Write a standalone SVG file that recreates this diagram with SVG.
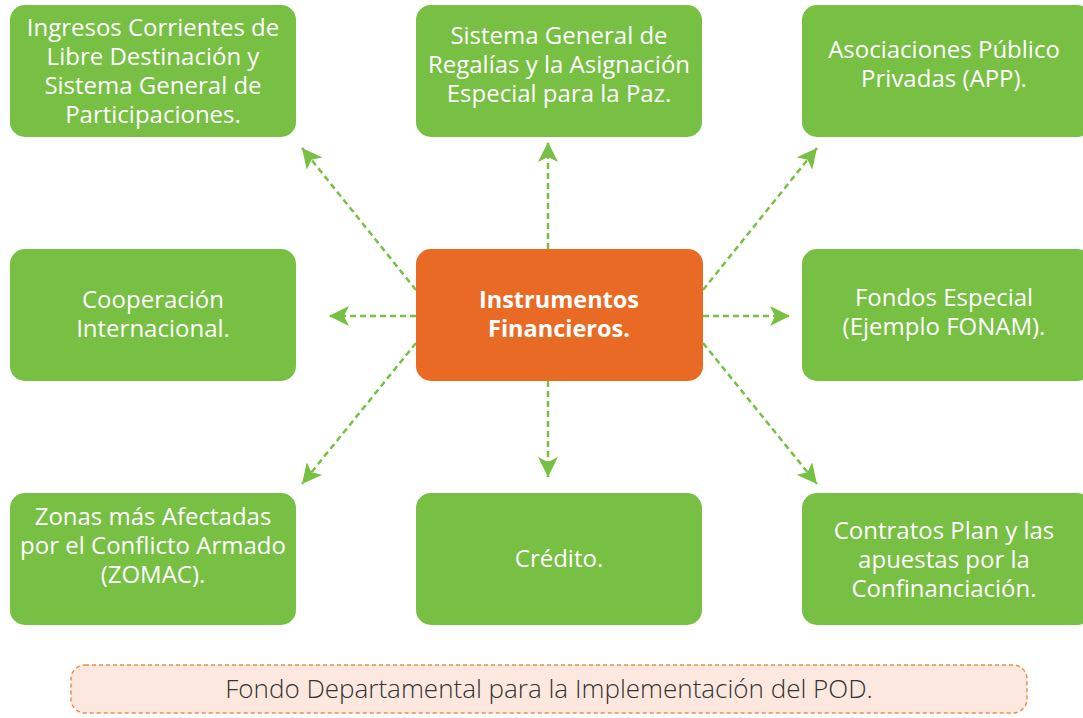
<svg xmlns="http://www.w3.org/2000/svg" width="1083" height="718" viewBox="0 0 1083 718">
<style>
.g rect{fill:#77c043;}
.t{font-family:"Open Sans","Noto Sans","Liberation Sans",sans-serif;font-size:24px;fill:#fff;text-anchor:middle;}
.c{font-weight:bold;font-size:23.5px;}
.ln{stroke:#77c043;stroke-width:2.5;stroke-dasharray:6 4;fill:none;marker-end:url(#ah);}
</style>
<defs>
<marker id="ah" viewBox="0 0 20 20" refX="20" refY="10" markerWidth="20" markerHeight="20" markerUnits="userSpaceOnUse" orient="auto">
<path d="M0,0 L20,10 L0,20 L5,10 z" fill="#77c043"/>
</marker>
</defs>
<rect width="1083" height="718" fill="#fff"/>
<g id="connectors">
<line class="ln" x1="416" y1="290" x2="302" y2="148"/>
<line class="ln" x1="548" y1="249" x2="548" y2="142"/>
<line class="ln" x1="703" y1="290" x2="817" y2="148"/>
<line class="ln" x1="416" y1="316" x2="329" y2="316"/>
<line class="ln" x1="703" y1="316" x2="790" y2="316"/>
<line class="ln" x1="416" y1="343" x2="302" y2="484"/>
<line class="ln" x1="548" y1="381" x2="548" y2="477"/>
<line class="ln" x1="703" y1="343" x2="817" y2="484"/>
</g>
<g id="n1" class="g"><rect x="10" y="5" width="286" height="132" rx="15"/>
<text class="t"><tspan x="153" y="36">Ingresos Corrientes de</tspan><tspan x="153" y="65">Libre Destinación y</tspan><tspan x="153" y="94">Sistema General de</tspan><tspan x="153" y="123">Participaciones.</tspan></text></g>
<g id="n2" class="g"><rect x="416" y="5" width="286" height="132" rx="15"/>
<text class="t"><tspan x="559" y="44">Sistema General de</tspan><tspan x="559" y="73">Regalías y la Asignación</tspan><tspan x="559" y="102">Especial para la Paz.</tspan></text></g>
<g id="n3" class="g"><rect x="802" y="5" width="290" height="132" rx="15"/>
<text class="t"><tspan x="944" y="58">Asociaciones Público</tspan><tspan x="944" y="87">Privadas (APP).</tspan></text></g>
<g id="n4" class="g"><rect x="10" y="249" width="286" height="132" rx="15"/>
<text class="t"><tspan x="153" y="308">Cooperación</tspan><tspan x="153" y="337">Internacional.</tspan></text></g>
<g id="center"><rect x="416" y="249" width="287" height="132" rx="15" fill="#e86a25"/>
<text class="t c"><tspan x="559" y="308">Instrumentos</tspan><tspan x="559" y="337">Financieros.</tspan></text></g>
<g id="n5" class="g"><rect x="802" y="249" width="290" height="132" rx="15"/>
<text class="t"><tspan x="944" y="306">Fondos Especial</tspan><tspan x="944" y="335">(Ejemplo FONAM).</tspan></text></g>
<g id="n6" class="g"><rect x="10" y="493" width="286" height="132" rx="15"/>
<text class="t"><tspan x="153" y="525">Zonas más Afectadas</tspan><tspan x="153" y="554">por el Conflicto Armado</tspan><tspan x="153" y="583">(ZOMAC).</tspan></text></g>
<g id="n7" class="g"><rect x="416" y="493" width="286" height="132" rx="15"/>
<text class="t"><tspan x="559" y="567">Crédito.</tspan></text></g>
<g id="n8" class="g"><rect x="802" y="493" width="290" height="132" rx="15"/>
<text class="t"><tspan x="944" y="539">Contratos Plan y las</tspan><tspan x="944" y="568">apuestas por la</tspan><tspan x="944" y="597">Confinanciación.</tspan></text></g>
<g id="footer"><rect x="71" y="665" width="956" height="48" rx="14" fill="#fde8df" stroke="#f08a4b" stroke-width="1.5" stroke-dasharray="4 3"/>
<text x="549" y="698" style="font-family:'Open Sans','Noto Sans','Liberation Sans',sans-serif;font-size:26px;fill:#333;text-anchor:middle;font-weight:300;">Fondo Departamental para la Implementación del POD.</text></g>
</svg>
